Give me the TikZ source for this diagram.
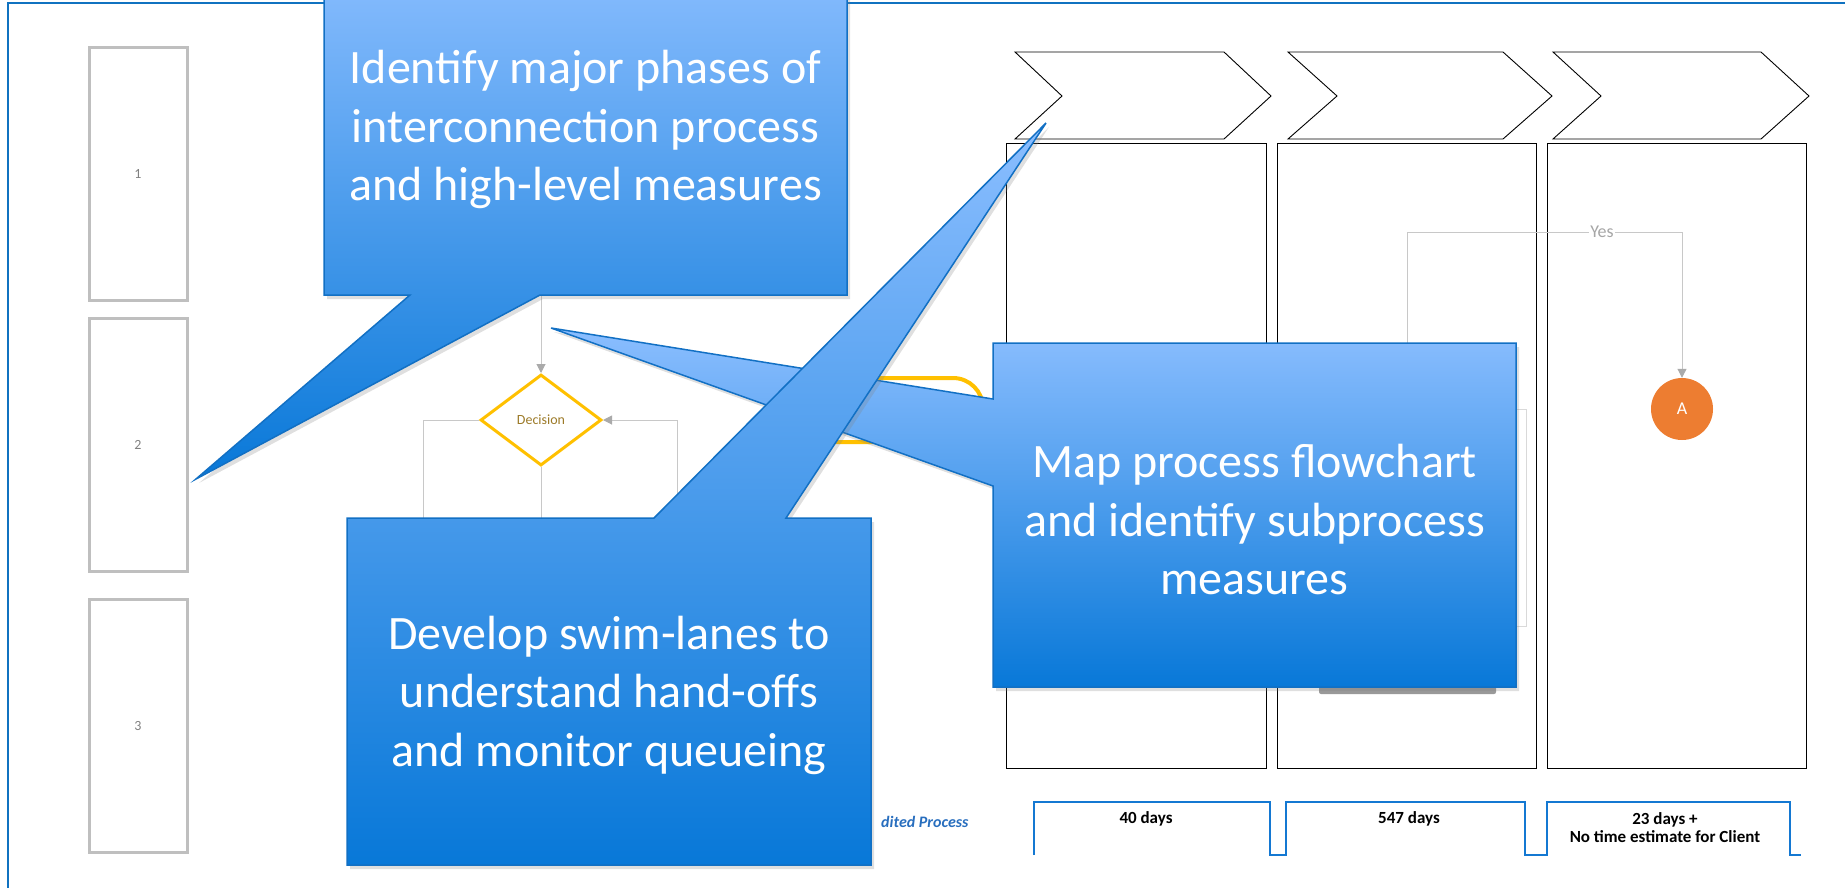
\documentclass[tikz,border=0pt]{standalone}
\usepackage{fontspec}
\setmainfont{Carlito}
\usetikzlibrary{shapes.geometric,arrows.meta,shadows}
\definecolor{frameblue}{RGB}{16,114,192}
\definecolor{calltop}{RGB}{139,190,255}
\definecolor{callmid}{RGB}{92,160,240}
\definecolor{callbot}{RGB}{8,120,216}
\definecolor{calledge}{RGB}{18,112,196}
\definecolor{boxgray}{RGB}{191,191,191}
\definecolor{linegray}{RGB}{200,200,200}
\definecolor{arrgray}{RGB}{170,170,170}
\definecolor{decyellow}{RGB}{255,192,0}
\definecolor{dectext}{RGB}{156,122,40}
\definecolor{aorange}{RGB}{237,125,49}
\definecolor{tlblue}{RGB}{20,120,210}
\definecolor{procblue}{RGB}{40,110,190}
\tikzset{
 lanebox/.style={draw=boxgray, line width=3pt, minimum width=98pt, minimum height=253pt, inner sep=0pt, text=black!50, font=\fontsize{14}{16}\selectfont},
 chev/.style={draw=black, line width=0.9pt, line join=miter},
 col/.style={draw=black, line width=0.9pt},
 conn/.style={draw=linegray, line width=1pt},
 arr/.style={-{Triangle[length=9pt,width=9pt,color=arrgray]}},
 callout/.style={draw=calledge, line width=1.5pt, top color=calltop, middle color=callmid, bottom color=callbot, line join=miter, drop shadow={shadow xshift=3pt, shadow yshift=-4pt, opacity=0.25}},
 calltext/.style={text=white, align=center, font=\fontsize{48}{58.5}\selectfont},
 daytext/.style={font=\bfseries\fontsize{17}{18}\selectfont, anchor=base},
}
\begin{document}
\begin{tikzpicture}[x=1pt,y=-1pt]
\useasboundingbox (0,0) rectangle (1845,887);
% frame
\draw[frameblue, line width=2pt] (8,900) -- (8,3) -- (1860,3);
% left lane boxes
\node[lanebox] (lane1) at (138,173.5) {1};
\node[lanebox] (lane2) at (138,445) {2};
\node[lanebox] (lane3) at (138,726) {3};
% chevrons
\draw[chev] (1015,52) -- (1224,52) -- (1271,96) -- (1224,139) -- (1015,139) -- (1062,96) -- cycle;
\draw[chev] (1288,52) -- (1503,52) -- (1552,96) -- (1503,139) -- (1288,139) -- (1337,96) -- cycle;
\draw[chev] (1553,52) -- (1761,52) -- (1809,96) -- (1761,139) -- (1553,139) -- (1601,96) -- cycle;
% columns
\draw[col] (1006,143) rectangle (1266,768);
\draw[col] (1277,143) rectangle (1536,768);
\draw[col] (1547,143) rectangle (1806,768);
% hidden process shapes
\draw[draw=black!15, line width=1pt] (1400,409) -- (1526,409) -- (1526,626) -- (1400,626);
\fill[black!40, rounded corners=2pt] (1319,686) rectangle (1496,694);
\draw[decyellow, line width=4pt, rounded corners=30pt] (805,378) rectangle (983,442);
% decision
\node[diamond, draw=decyellow, line width=3pt, minimum width=121pt, minimum height=91pt, inner sep=0pt, text=dectext, font=\fontsize{14}{16}\selectfont] (dec) at (541,420) {Decision};
\coordinate (c1) at (541,296);
\coordinate (lft) at (423,540);
\coordinate (bot) at (541,540);
\coordinate (rgt) at (677,540);
\draw[conn, arr] (c1) -- (dec.north);
\draw[conn] (dec.west) -| (lft);
\draw[conn] (dec.south) -- (bot);
\draw[conn, arr] (rgt) |- (dec.east);
% connector A
\node[circle, fill=aorange, minimum size=62pt, inner sep=0pt, text=white, font=\fontsize{18}{20}\selectfont] (A) at (1682,409) {A};
\coordinate (ys) at (1407,409);
\coordinate (yc) at (1407,232);
\draw[conn, arr] (ys) -- (yc) -- node[pos=0.709, fill=white, inner sep=1pt, text=black!35, font=\fontsize{18}{20}\selectfont] (yes) {Yes} (yc -| A.north) -- (A.north);
% timeline
\draw[tlblue, line width=2pt] (1034,855) -- (1034,802) -- (1270,802) -- (1270,855) -- (1286,855) -- (1286,802) -- (1525,802) -- (1525,855) -- (1547,855) -- (1547,802) -- (1790,802) -- (1790,855) -- (1801,855);
\node[daytext] (d1) at (1146,823) {40 days};
\node[daytext] (d2) at (1409,823) {547 days};
\node[daytext] (d3a) at (1665,824) {23 days +};
\node[daytext] (d3b) at (1665,842) {No time estimate for Client};
\node[anchor=base east, text=procblue, font=\bfseries\itshape\fontsize{16}{18}\selectfont] (exp) at (972,827) {dited Process};
% callouts
\path[callout] (324,-45) -- (847,-45) -- (847,295) -- (540,295) -- (196,479) -- (410,295) -- (324,295) -- cycle;
\node[calltext] (t1) at (585.5,129.5) {Identify major phases of\\interconnection process\\and high-level measures};
\path[callout] (993,343) -- (1516,343) -- (1516,687) -- (993,687) -- (993,486) -- (551,328) -- (993,399) -- cycle;
\node[calltext] (t3) at (1254.5,520) {Map process flowchart\\and identify subprocess\\measures};
\path[callout] (347,518) -- (654,518) -- (1046,123) -- (786,518) -- (871,518) -- (871,865) -- (347,865) -- cycle;
\node[calltext] (t2) at (609,695) {Develop swim-lanes to\\understand hand-offs\\and monitor queueing};
\end{tikzpicture}
\end{document}
